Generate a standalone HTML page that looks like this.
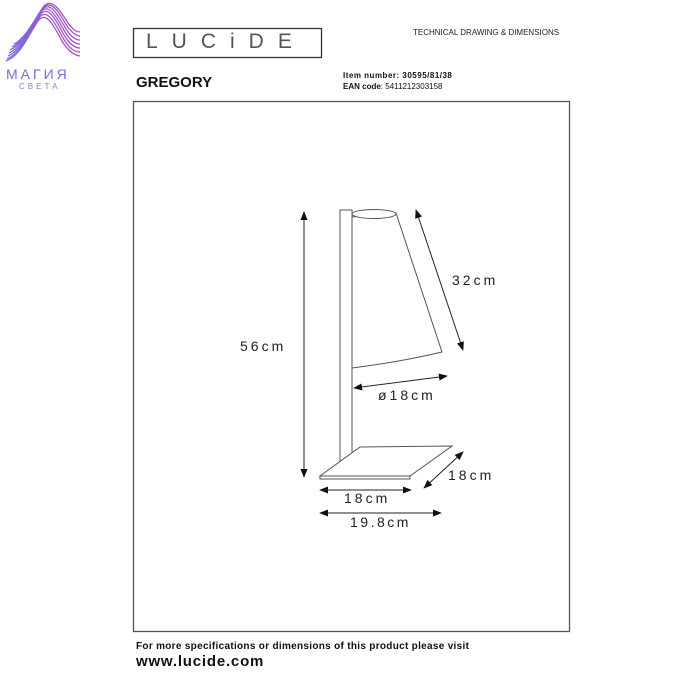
<!DOCTYPE html>
<html><head><meta charset="utf-8"><style>
body{margin:0;width:700px;height:700px;background:#fff;position:relative;overflow:hidden;font-family:"Liberation Sans",sans-serif}
.a{position:absolute;white-space:nowrap}
</style></head><body>
<svg width="700" height="700" style="position:absolute;left:0;top:0">
<defs>
<linearGradient id="g" x1="0" y1="0" x2="1" y2="0"><stop offset="0" stop-color="#7c6be0"/><stop offset="1" stop-color="#b04fb8"/></linearGradient>
<marker id="m" viewBox="0 0 10 10" refX="9" refY="5" markerWidth="9" markerHeight="9" orient="auto-start-reverse" markerUnits="userSpaceOnUse"><path d="M0,1 L10,5 L0,9 Z" fill="#111"/></marker>
</defs>
<g fill="none" stroke="url(#g)" stroke-width="1.3">
<path d="M8,56 C22,50 30,30 40,15 C48,4 56,20 64,35 C70,45 75,48 80,48"/>
<path d="M9,53 C23,47 31,27 41,12 C49,2 57,18 65,32 C71,42 76,44 80,44"/>
<path d="M10,50 C24,44 32,24 42,10 C50,0 58,15 66,29 C72,38 76,40 80,40"/>
<path d="M12,47 C25,41 33,22 43,8 C51,-1 59,12 67,26 C73,34 77,36 80,36"/>
<path d="M7,59 C21,53 29,33 39,18 C47,7 55,23 63,38 C69,48 74,52 80,52"/>
<path d="M6,61 C20,56 28,36 38,21 C46,10 54,26 62,41 C68,51 74,55 80,56"/>
<path d="M14,44 C26,38 34,20 44,6 C52,-2 60,10 68,23 C74,31 77,32 80,32"/>
</g>
<rect x="133.5" y="28.5" width="188" height="29" fill="none" stroke="#333" stroke-width="1.3"/>
<rect x="133.5" y="101.5" width="436" height="530" fill="none" stroke="#555" stroke-width="1.3"/>
<g stroke="#555" stroke-width="1" fill="#fff">
<path d="M396,213 L442,352 Q400,362 352,368 L352,217 Z"/>
<ellipse cx="374" cy="214" rx="22" ry="4.5"/>
<rect x="340" y="210" width="12" height="252"/>
<path d="M360,447 L452,446 L410,476 L320,476 Z"/>
<path d="M320,476 L410,476 L410,479 L320,479 Z"/>
</g>
<g stroke="#222" stroke-width="1" marker-start="url(#m)" marker-end="url(#m)">
<line x1="304" y1="212" x2="304" y2="477"/>
<line x1="416" y1="210" x2="463" y2="350"/>
<line x1="354" y1="388" x2="447" y2="376"/>
<line x1="424" y1="488" x2="463" y2="452"/>
<line x1="320" y1="490" x2="411" y2="490"/>
<line x1="320" y1="513" x2="441" y2="513"/>
</g>
</svg>
<div class="a" style="left:6px;top:66px;font-size:14px;letter-spacing:3px;color:#7d6ad8">МАГИЯ</div>
<div class="a" style="left:19px;top:82px;font-size:8px;letter-spacing:3px;color:#8a7ad8">СВЕТА</div>
<div class="a" style="left:146px;top:30px;font-size:21px;letter-spacing:14px;color:#555">LUCiDE</div>
<div class="a" style="left:136px;top:74px;font-size:15px;font-weight:bold;color:#111">GREGORY</div>
<div class="a" style="left:413px;top:28px;font-size:8px;color:#222">TECHNICAL DRAWING &amp; DIMENSIONS</div>
<div class="a" style="left:343px;top:71px;font-size:8px;font-weight:bold;color:#111;letter-spacing:0.5px">Item number: 30595/81/38</div>
<div class="a" style="left:343px;top:82px;font-size:8px;color:#111"><b>EAN code</b>: 5411212303158</div>
<div class="a" style="left:240px;top:338px;font-size:14px;letter-spacing:3px;color:#222">56cm</div>
<div class="a" style="left:452px;top:272px;font-size:14px;letter-spacing:3px;color:#222">32cm</div>
<div class="a" style="left:378px;top:387px;font-size:14px;letter-spacing:3px;color:#222">ø18cm</div>
<div class="a" style="left:448px;top:467px;font-size:14px;letter-spacing:3px;color:#222">18cm</div>
<div class="a" style="left:344px;top:490px;font-size:14px;letter-spacing:3px;color:#222">18cm</div>
<div class="a" style="left:350px;top:514px;font-size:14px;letter-spacing:2.5px;color:#222">19.8cm</div>
<div class="a" style="left:136px;top:641px;font-size:10px;font-weight:bold;letter-spacing:0.3px;color:#111">For more specifications or dimensions of this product please visit</div>
<div class="a" style="left:136px;top:653px;font-size:15px;font-weight:bold;letter-spacing:0.8px;color:#111">www.lucide.com</div>
</body></html>
